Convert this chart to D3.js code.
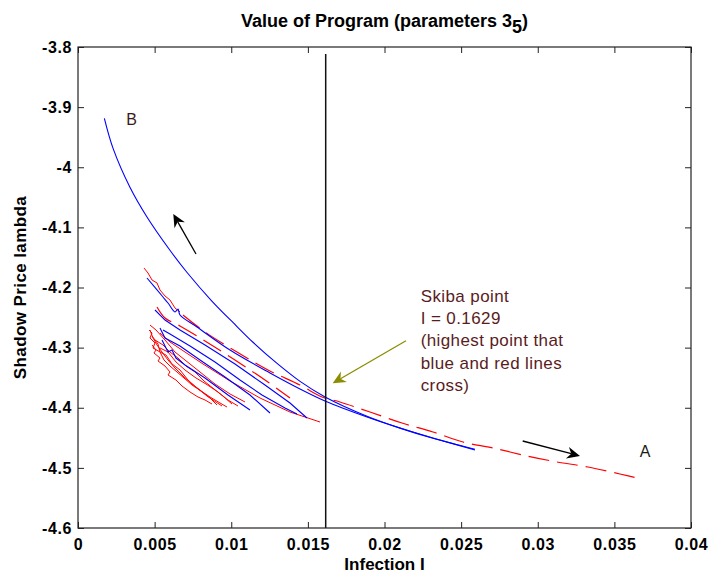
<!DOCTYPE html>
<html>
<head>
<meta charset="utf-8">
<script src="https://cdn.jsdelivr.net/npm/d3@7"></script>
<style>
  body { margin: 0; background: #fff; }
  svg text { font-family: "Liberation Sans", Arial, sans-serif; }
</style>
</head>
<body>
<div id="chart"></div>
<script>
const WIDTH = 710;
const HEIGHT = 576;
const MARGIN = { top: 47, right: 19, bottom: 48, left: 78 };
const TICK_LEN = 6;

const X_TICKS = [0, 0.005, 0.01, 0.015, 0.02, 0.025, 0.03, 0.035, 0.04];
const Y_TICKS = [-4.6, -4.5, -4.4, -4.3, -4.2, -4.1, -4, -3.9, -3.8];

// branch B (solid blue, upper curve)
const blueB_x = [0.00172, 0.00230, 0.00339, 0.00448, 0.00600, 0.00709, 0.00872, 0.01036, 0.01142, 0.01297, 0.01449, 0.01612, 0.01886, 0.02101, 0.02316, 0.02590];
const blueB_y = [-3.9186, -3.9695, -4.0333, -4.0819, -4.1381, -4.1742, -4.2221, -4.2645, -4.2911, -4.3259, -4.3562, -4.3820, -4.4141, -4.4339, -4.4508, -4.4689];

// other blue trajectories
const blue2_x = [0.004502, 0.005546, 0.005873, 0.006329, 0.006525, 0.006656, 0.007765, 0.009918, 0.012528, 0.014486, 0.016117, 0.018857, 0.021011, 0.023164, 0.025904];
const blue2_y = [-4.1842, -4.2158, -4.2258, -4.2407, -4.2358, -4.2457, -4.2657, -4.3040, -4.3422, -4.3688, -4.3888, -4.4154, -4.4337, -4.4503, -4.4703];
const blue3_x = [0.005024, 0.005677, 0.006656, 0.008287, 0.010244, 0.012202, 0.013833, 0.014942];
const blue3_y = [-4.2374, -4.2541, -4.2707, -4.2956, -4.3272, -4.3622, -4.3921, -4.4171];
const blue4_x = [0.005351, 0.005677, 0.006656, 0.007961, 0.009592, 0.011223, 0.012528];
const blue4_y = [-4.2674, -4.2840, -4.2973, -4.3206, -4.3489, -4.3788, -4.4087];
const blue5_x = [0.005481, 0.005873, 0.006134, 0.006394, 0.006982, 0.008287, 0.009788, 0.011223];
const blue5_y = [-4.2873, -4.3073, -4.3040, -4.3173, -4.3289, -4.3505, -4.3788, -4.4037];
const blue6_x = [0.005546, 0.006003, 0.007308, 0.008939, 0.010571, 0.012006, 0.013507, 0.014290];
const blue6_y = [-4.2707, -4.2773, -4.2973, -4.3239, -4.3539, -4.3788, -4.4004, -4.4104];

// branch A (red, solid start then dashed)
const redA0_x = [0.004307, 0.004568, 0.004829, 0.005155, 0.005351, 0.005677, 0.006003, 0.006329, 0.006656];
const redA0_y = [-4.1676, -4.1759, -4.1875, -4.1925, -4.2042, -4.2141, -4.2208, -4.2341, -4.2407];
const redA_x = [0.006851, 0.008287, 0.010375, 0.012398, 0.014486, 0.015921, 0.017096, 0.019053, 0.021141, 0.023164, 0.025121, 0.027079, 0.029297, 0.031255, 0.033278, 0.035366, 0.036801];
const redA_y = [-4.2457, -4.2740, -4.3073, -4.3372, -4.3622, -4.3821, -4.3904, -4.4071, -4.4254, -4.4403, -4.4570, -4.4669, -4.4802, -4.4902, -4.4985, -4.5102, -4.5185];

// other red trajectories
const red2_x = [0.005351, 0.006003, 0.006786, 0.008156, 0.009918, 0.011876, 0.013833, 0.015791];
const red2_y = [-4.2757, -4.2906, -4.3040, -4.3272, -4.3555, -4.3838, -4.4071, -4.4237];
const red3_x = [0.005155, 0.005677, 0.006656, 0.008287, 0.010244, 0.012202, 0.013833];
const red3_y = [-4.2324, -4.2507, -4.2640, -4.2890, -4.3206, -4.3539, -4.3838];
const red4_x = [0.004698, 0.004894, 0.005155, 0.005481, 0.005873, 0.006329, 0.006851, 0.007439, 0.007961, 0.008613, 0.009070];
const red4_y = [-4.2707, -4.2840, -4.2956, -4.3073, -4.3206, -4.3339, -4.3472, -4.3605, -4.3705, -4.3838, -4.3954];
const red5_x = [0.004829, 0.005220, 0.005351, 0.005742, 0.006134, 0.006656, 0.007178, 0.007765, 0.008417, 0.009396];
const red5_y = [-4.2807, -4.2940, -4.3073, -4.3123, -4.3272, -4.3372, -4.3539, -4.3672, -4.3805, -4.3971];
const red6_x = [0.005024, 0.005546, 0.006003, 0.006525, 0.007047, 0.007634, 0.008222, 0.008874, 0.009527, 0.010049];
const red6_y = [-4.2873, -4.2956, -4.3073, -4.3173, -4.3306, -4.3405, -4.3555, -4.3688, -4.3821, -4.3938];
const red7_x = [0.005351, 0.005873, 0.006394, 0.006982, 0.007700, 0.008352, 0.009135, 0.009788, 0.010440];
const red7_y = [-4.3006, -4.3073, -4.3239, -4.3372, -4.3505, -4.3605, -4.3738, -4.3871, -4.3971];
const red8_x = [0.004698, 0.005090, 0.005677, 0.006329, 0.006982, 0.007961, 0.008939, 0.009918, 0.010897];
const red8_y = [-4.2624, -4.2707, -4.2873, -4.3073, -4.3206, -4.3405, -4.3605, -4.3771, -4.3904];
const red9_x = [0.004829, 0.005090, 0.004959, 0.005351, 0.005220, 0.005677, 0.006003, 0.005873, 0.006394, 0.006786, 0.007308, 0.007830, 0.008287, 0.008744];
const red9_y = [-4.2956, -4.3040, -4.3089, -4.3173, -4.3222, -4.3306, -4.3405, -4.3455, -4.3539, -4.3638, -4.3738, -4.3821, -4.3871, -4.3938];
const red10_x = [0.004633, 0.004829, 0.004698, 0.005024, 0.004894, 0.005351, 0.005612, 0.006003, 0.006460, 0.006917, 0.007439, 0.008026, 0.008613, 0.009266, 0.009722];
const red10_y = [-4.2707, -4.2757, -4.2840, -4.2923, -4.3006, -4.3073, -4.3206, -4.3306, -4.3405, -4.3505, -4.3622, -4.3721, -4.3821, -4.3921, -4.3988];

// Skiba line
const SKIBA_I = 0.016163;
const SKIBA_TOP = -3.8116;

// annotations: [x1, y1, x2, y2] tail -> tip
const ARROW_UP = [0.007700, -4.1443, 0.006218, -4.0778];
const ARROW_DOWN = [0.029017, -4.4553, 0.032756, -4.4802];
const ARROW_SKIBA = [0.021402, -4.2885, 0.016619, -4.3593];
const LABEL_B = [0.003504, -3.9198];
const LABEL_A = [0.036997, -4.4719];
const SKIBA_POS = [0.022361, -4.2136];
const SKIBA_LINES = ["Skiba point", "I = 0.1629", "(highest point that", "blue and red lines", "cross)"];

const BLUE = "#0000ff";
const RED = "#ff0000";

const blueSmooth = [[blueB_x, blueB_y], [blue2_x, blue2_y]];
const blueSeries = [[blue3_x, blue3_y], [blue4_x, blue4_y], [blue5_x, blue5_y], [blue6_x, blue6_y]];
const redSolid = [[redA0_x, redA0_y], [red4_x, red4_y], [red5_x, red5_y], [red6_x, red6_y], [red7_x, red7_y], [red8_x, red8_y], [red9_x, red9_y], [red10_x, red10_y], [red2_x, red2_y]];
const redDashed = [[redA_x, redA_y], [red3_x, red3_y]];

const x = d3.scaleLinear().domain([0, 0.04]).range([MARGIN.left, WIDTH - MARGIN.right]);
const y = d3.scaleLinear().domain([-4.6, -3.8]).range([HEIGHT - MARGIN.bottom, MARGIN.top]);

const svg = d3.select("#chart").append("svg")
  .attr("width", WIDTH)
  .attr("height", HEIGHT);

const toPoints = ([xs, ys]) => xs.map((v, i) => [v, ys[i]]);
const line = d3.line().x(d => x(d[0])).y(d => y(d[1]));
const smoothLine = d3.line().x(d => x(d[0])).y(d => y(d[1])).curve(d3.curveCatmullRom);

// data lines
svg.append("g").selectAll("path")
  .data(redSolid.map(toPoints))
  .join("path")
  .attr("d", line)
  .attr("fill", "none")
  .attr("stroke", RED)
  .attr("stroke-width", 1);

svg.append("g").selectAll("path")
  .data(redDashed.map(toPoints))
  .join("path")
  .attr("d", smoothLine)
  .attr("fill", "none")
  .attr("stroke", RED)
  .attr("stroke-width", 1.2)
  .attr("stroke-dasharray", "21,8");

svg.append("g").selectAll("path")
  .data(blueSeries.map(toPoints))
  .join("path")
  .attr("d", line)
  .attr("fill", "none")
  .attr("stroke", BLUE)
  .attr("stroke-width", 1.1);

svg.append("g").selectAll("path")
  .data(blueSmooth.map(toPoints))
  .join("path")
  .attr("d", smoothLine)
  .attr("fill", "none")
  .attr("stroke", BLUE)
  .attr("stroke-width", 1.1);

// Skiba vertical line
svg.append("line")
  .attr("x1", x(SKIBA_I)).attr("x2", x(SKIBA_I))
  .attr("y1", y(-4.6)).attr("y2", y(SKIBA_TOP))
  .attr("stroke", "#111")
  .attr("stroke-width", 1.5);

// axes box + ticks (MATLAB style, inward ticks on all sides)
const fmtX = d => String(+d.toFixed(3));
const fmtY = d => String(+d.toFixed(1));
const axisStyle = g => {
  g.select(".domain").remove();
  g.selectAll(".tick line").attr("stroke", "#222");
  g.selectAll(".tick text")
    .attr("font-size", 16)
    .attr("font-weight", "bold")
    .attr("letter-spacing", "0.6px")
    .attr("fill", "#000");
};

svg.append("g")
  .attr("transform", `translate(0,${y(-4.6)})`)
  .call(d3.axisBottom(x).tickValues(X_TICKS).tickFormat(fmtX).tickSizeInner(-TICK_LEN).tickPadding(11))
  .call(axisStyle);
svg.append("g")
  .attr("transform", `translate(0,${y(-3.8)})`)
  .call(d3.axisTop(x).tickValues(X_TICKS).tickFormat("").tickSizeInner(-TICK_LEN))
  .call(axisStyle);
svg.append("g")
  .attr("transform", `translate(${x(0)},0)`)
  .call(d3.axisLeft(y).tickValues(Y_TICKS).tickFormat(fmtY).tickSizeInner(-TICK_LEN).tickPadding(6))
  .call(axisStyle);
svg.append("g")
  .attr("transform", `translate(${x(0.04)},0)`)
  .call(d3.axisRight(y).tickValues(Y_TICKS).tickFormat("").tickSizeInner(-TICK_LEN))
  .call(axisStyle);

svg.append("rect")
  .attr("x", x(0)).attr("y", y(-3.8))
  .attr("width", x(0.04) - x(0))
  .attr("height", y(-4.6) - y(-3.8))
  .attr("fill", "none")
  .attr("stroke", "#222")
  .attr("stroke-width", 1.2);

// title
const title = svg.append("text")
  .attr("x", (x(0) + x(0.04)) / 2)
  .attr("y", 27)
  .attr("text-anchor", "middle")
  .attr("font-size", 18)
  .attr("font-weight", "bold");
title.append("tspan").text("Value of Program (parameters 3");
title.append("tspan").attr("dy", 6).text("5");
title.append("tspan").attr("dy", -6).text(")");

// axis labels
svg.append("text")
  .attr("x", (x(0) + x(0.04)) / 2)
  .attr("y", 570)
  .attr("text-anchor", "middle")
  .attr("font-size", 17)
  .attr("font-weight", "bold")
  .text("Infection I");

svg.append("text")
  .attr("transform", `translate(26,${(y(-3.8) + y(-4.6)) / 2}) rotate(-90)`)
  .attr("text-anchor", "middle")
  .attr("font-size", 17)
  .attr("font-weight", "bold")
  .attr("letter-spacing", "0.4px")
  .text("Shadow Price lambda");

// arrows
const drawArrow = ([x1, y1, x2, y2], color) => {
  const px1 = x(x1), py1 = y(y1), px2 = x(x2), py2 = y(y2);
  const ang = Math.atan2(py2 - py1, px2 - px1);
  const len = 13, half = 6, back = 9;
  const bx = px2 - len * Math.cos(ang), by = py2 - len * Math.sin(ang);
  const nx = -Math.sin(ang), ny = Math.cos(ang);
  const mx = px2 - back * Math.cos(ang), my = py2 - back * Math.sin(ang);
  svg.append("line")
    .attr("x1", px1).attr("y1", py1).attr("x2", mx).attr("y2", my)
    .attr("stroke", color).attr("stroke-width", 1.3);
  svg.append("path")
    .attr("d", `M${px2},${py2} L${bx + nx * half},${by + ny * half} L${mx},${my} L${bx - nx * half},${by - ny * half} Z`)
    .attr("fill", color);
};
drawArrow(ARROW_UP, "#000");
drawArrow(ARROW_DOWN, "#000");
drawArrow(ARROW_SKIBA, "#8c8c00");

// text annotations
svg.append("text")
  .attr("x", x(LABEL_B[0])).attr("y", y(LABEL_B[1]))
  .attr("dy", "0.35em")
  .attr("text-anchor", "middle")
  .attr("font-size", 16)
  .attr("fill", "#3a1a1a")
  .text("B");
svg.append("text")
  .attr("x", x(LABEL_A[0])).attr("y", y(LABEL_A[1]))
  .attr("dy", "0.35em")
  .attr("text-anchor", "middle")
  .attr("font-size", 16)
  .attr("fill", "#1a1a1a")
  .text("A");

svg.append("g").selectAll("text")
  .data(SKIBA_LINES)
  .join("text")
  .attr("x", x(SKIBA_POS[0]))
  .attr("y", (d, i) => y(SKIBA_POS[1]) + i * 22.4)
  .attr("dy", "0.35em")
  .attr("font-size", 17)
  .attr("letter-spacing", "0.4px")
  .attr("fill", "#5a1c1c")
  .text(d => d);
</script>
</body>
</html>
